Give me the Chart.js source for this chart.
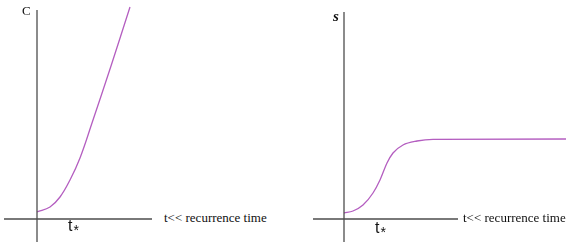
<!DOCTYPE html>
<html>
<head>
<meta charset="utf-8">
<script src="https://cdn.jsdelivr.net/npm/chart.js@4.4.1/dist/chart.umd.min.js"></script>
<style>
  html, body { margin: 0; padding: 0; background: #fff; }
  #wrap { position: relative; width: 588px; height: 242px; overflow: hidden; }
  canvas { position: absolute; top: 0; }
  .lbl { position: absolute; white-space: nowrap; color: #111; }
  .serif { font-family: "Liberation Serif", "DejaVu Serif", serif; }
  .sans { font-family: "Liberation Sans", "DejaVu Sans", sans-serif; }
  .tstar { font-size: 16px; }
  .tstar sub { font-size: 14px; vertical-align: -4px; margin-left: 1px; }
</style>
</head>
<body>
<div id="wrap">
  <canvas id="leftChart" width="160" height="242" style="left:0"></canvas>
  <canvas id="rightChart" width="288" height="242" style="left:300px"></canvas>
  <span class="lbl serif" id="cLabel" style="left:22px; top:3px; font-size:13px"></span>
  <span class="lbl serif" id="sLabel" style="left:333px; top:8px; font-size:15px; font-style:italic; font-weight:bold"></span>
  <span class="lbl serif" id="xLabelL" style="left:164px; top:210px; font-size:13px"></span>
  <span class="lbl serif" id="xLabelR" style="left:463px; top:210px; font-size:13px"></span>
  <span class="lbl sans tstar" id="tStarL" style="left:68px; top:217px"></span>
  <span class="lbl sans tstar" id="tStarR" style="left:375px; top:219px"></span>
</div>
<script>
// labels
const Y_LABEL_LEFT = "C";
const Y_LABEL_RIGHT = "s";
const X_LABEL = "t<< recurrence time";
const T_STAR = "t";

// left panel: C(t), slow start then roughly linear growth
const cTime = [0, 1.3, 2.3, 3.3, 4.3, 5.5, 7.4, 9.3];
const cValue = [0.7, 1.2, 2.2, 3.9, 6.1, 9.6, 15.3, 21.2];

// right panel: s(t), sigmoid that saturates
const sTime = [0, 0.9, 1.9, 2.9, 3.6, 4.3, 4.9, 5.9, 7.3, 8.9, 22.2];
const sValue = [0.6, 0.8, 1.4, 2.6, 3.9, 5.6, 6.6, 7.4, 7.8, 7.97, 8.0];

// axis extents (data units) for each panel
const leftXAxis = [-3.3, 11.5];
const leftYAxis = [-2.3, 20.9];
const rightXAxis = [-3.1, 11.4];
const rightYAxis = [-2.3, 20.7];

const CURVE_COLOR = '#b45ec0';
const AXIS_COLOR = '#4d4d4d';

document.getElementById('cLabel').textContent = Y_LABEL_LEFT;
document.getElementById('sLabel').textContent = Y_LABEL_RIGHT;
document.getElementById('xLabelL').textContent = X_LABEL;
document.getElementById('xLabelR').textContent = X_LABEL;
document.getElementById('tStarL').innerHTML = T_STAR + '<sub>*</sub>';
document.getElementById('tStarR').innerHTML = T_STAR + '<sub>*</sub>';

function makePanel(id, times, values, xAxis, yAxis, xRange, yRange, smooth) {
    const ctx = document.getElementById(id).getContext('2d');
    const axisLine = (pts) => ({
        data: pts,
        borderColor: AXIS_COLOR,
        borderWidth: 1.3,
        pointRadius: 0,
        tension: 0
    });
    const curve = {
        data: times.map((t, i) => ({ x: t, y: values[i] })),
        borderColor: CURVE_COLOR,
        borderWidth: 1.3,
        pointRadius: 0
    };
    Object.assign(curve, smooth);
    return new Chart(ctx, {
        type: 'line',
        data: {
            datasets: [
                axisLine(xAxis.map(x => ({ x: x, y: 0 }))),
                axisLine(yAxis.map(y => ({ x: 0, y: y }))),
                curve
            ]
        },
        options: {
            responsive: false,
            animation: false,
            layout: { padding: 0 },
            plugins: { legend: { display: false }, tooltip: { enabled: false } },
            scales: {
                x: { type: 'linear', display: false, min: xRange[0], max: xRange[1] },
                y: { type: 'linear', display: false, min: yRange[0], max: yRange[1] }
            }
        }
    });
}

makePanel('leftChart', cTime, cValue, leftXAxis, leftYAxis, [-3.7, 12.3], [-2.3, 21.9], { tension: 0.4 });
makePanel('rightChart', sTime, sValue, rightXAxis, rightYAxis, [-4.4, 24.4], [-2.3, 21.9], { cubicInterpolationMode: 'monotone' });
</script>
</body>
</html>
